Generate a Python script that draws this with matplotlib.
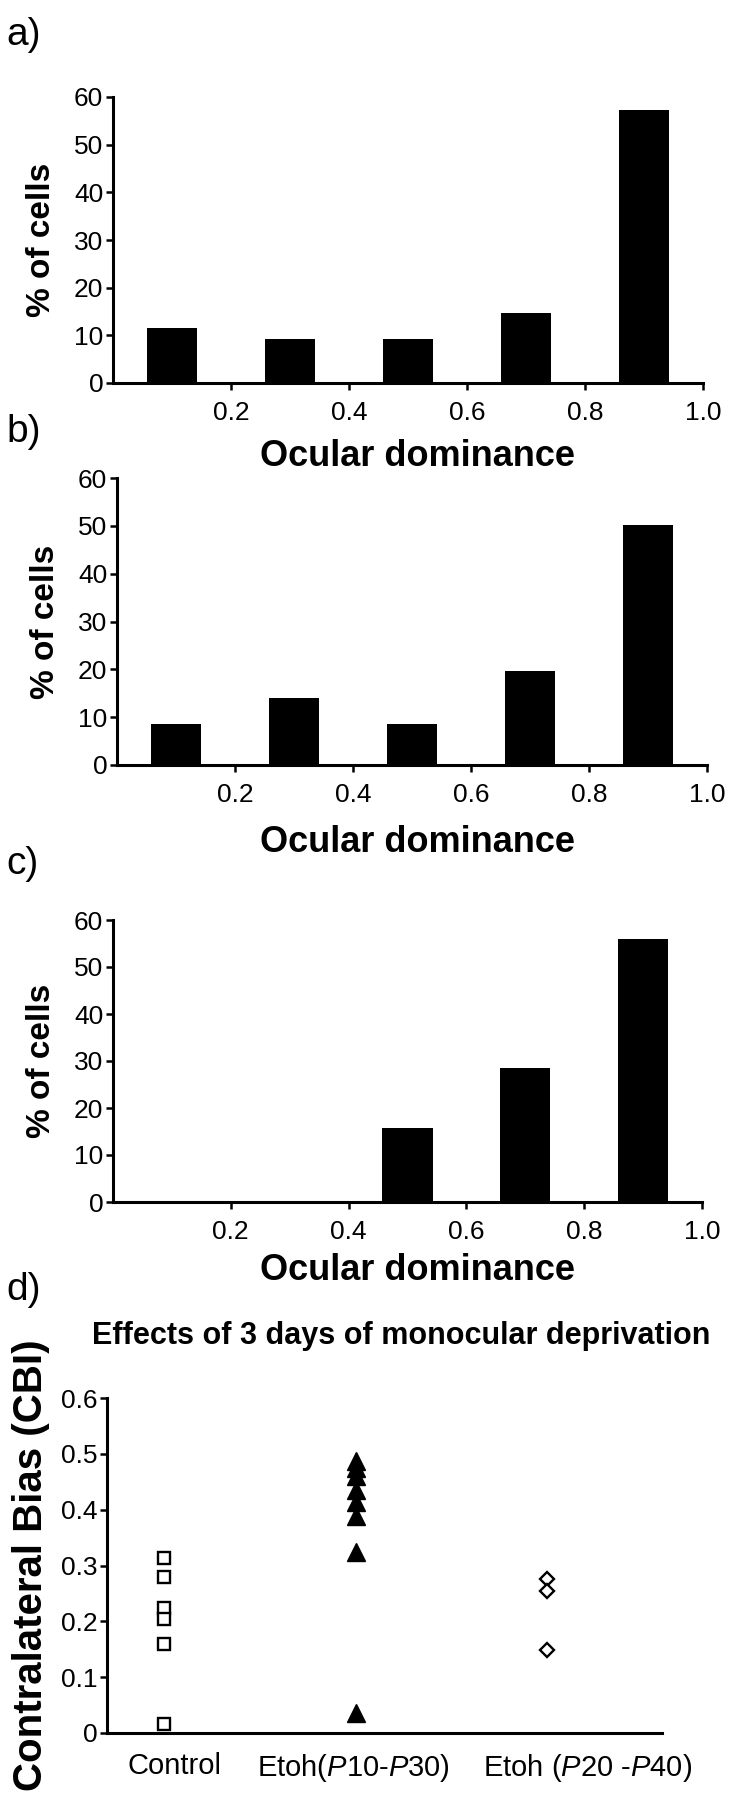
import matplotlib
matplotlib.use('Agg')
import matplotlib.pyplot as plt
import matplotlib.transforms as mtransforms

###########################################################################
# Data
###########################################################################
od_bins = [0.1, 0.3, 0.5, 0.7, 0.9]
od_ticks = [0.2, 0.4, 0.6, 0.8, 1.0]
od_ticklabels = ['0.2', '0.4', '0.6', '0.8', '1.0']
pct_a = [11.6, 9.2, 9.2, 14.7, 57.3]
pct_b = [8.6, 14.0, 8.6, 19.6, 50.2]
pct_c = [0, 0, 15.7, 28.6, 56.0]
pct_ticks = [0, 10, 20, 30, 40, 50, 60]

groups = ['Control', 'Etoh$\\mathit{(P10}$-$\\mathit{P30)}$', 'Etoh $\\mathit{(P20}$ -$\\mathit{P40)}$']
cbi_control = [0.313, 0.279, 0.223, 0.204, 0.160, 0.016]
cbi_etoh_p10 = [0.488, 0.475, 0.460, 0.436, 0.414, 0.388, 0.324, 0.036]
cbi_etoh_p20 = [0.276, 0.255, 0.149]
cbi_ticks = [0, 0.1, 0.2, 0.3, 0.4, 0.5, 0.6]
cbi_ticklabels = ['0', '0.1', '0.2', '0.3', '0.4', '0.5', '0.6']

###########################################################################
# Style
###########################################################################
plt.rcParams['font.family'] = ['Liberation Sans', 'DejaVu Sans']
plt.rcParams['mathtext.fontset'] = 'custom'
plt.rcParams['mathtext.rm'] = 'Liberation Sans'
plt.rcParams['mathtext.it'] = 'Liberation Sans:italic'
plt.rcParams['mathtext.default'] = 'regular'

W, H = 738., 1800.
fig = plt.figure(figsize=(7.38, 18), dpi=100)


def px_rect(left, right, top, bottom):
    # pixel box (measured from top-left) -> figure fraction
    return [left / W, 1 - bottom / H, (right - left) / W, (bottom - top) / H]


def style_axes(ax):
    for s in ['top', 'right']:
        ax.spines[s].set_visible(False)
    for s in ['left', 'bottom']:
        ax.spines[s].set_linewidth(2.2)
    ax.tick_params(direction='out', length=5, width=1.8, labelsize=19, pad=2)


def od_panel(rect, values, label, label_y, xlabel_y):
    ax = fig.add_axes(rect)
    ax.bar(od_bins, values, width=0.085, color='black')
    ax.set_xlim(0, 1.0)
    ax.set_ylim(0, 60)
    ax.set_xticks(od_ticks)
    ax.set_xticklabels(od_ticklabels)
    ax.set_yticks(pct_ticks)
    style_axes(ax)
    ax.tick_params(axis='x', pad=8)
    ax.set_ylabel('% of cells', fontsize=24, fontweight='bold', labelpad=12)
    fig.text(418 / W, 1 - xlabel_y / H, 'Ocular dominance', fontsize=26,
             fontweight='bold', ha='center', va='center')
    fig.text(6 / W, 1 - label_y / H, label, fontsize=28, ha='left', va='center')
    return ax


axA = od_panel(px_rect(113, 703, 97, 383), pct_a, 'a)', 35, 456)
axB = od_panel(px_rect(117, 707, 478, 765), pct_b, 'b)', 432, 842)
axC = od_panel(px_rect(113, 702, 920, 1202), pct_c, 'c)', 864, 1270)

###########################################################################
# Panel d
###########################################################################
axD = fig.add_axes(px_rect(107, 662, 1398, 1733))
axD.plot([0] * len(cbi_control), cbi_control, linestyle='none', marker='s',
         markersize=8.5, markerfacecolor='white', markeredgecolor='black', markeredgewidth=1.7)
axD.plot([1] * len(cbi_etoh_p10), cbi_etoh_p10, linestyle='none', marker='^',
         markersize=12.5, color='black')
axD.plot([2] * len(cbi_etoh_p20), cbi_etoh_p20, linestyle='none', marker='D',
         markersize=7.5, markerfacecolor='white', markeredgecolor='black', markeredgewidth=1.7)
axD.set_xlim(-0.3, 2.6)
axD.set_ylim(0, 0.6)
axD.set_yticks(cbi_ticks)
axD.set_yticklabels(cbi_ticklabels)
axD.set_xticks([0, 1, 2])
axD.set_xticklabels(groups)
style_axes(axD)
axD.tick_params(axis='x', length=0, pad=14, labelsize=21)
# nudge the category labels like in the original
for lab, dx in zip(axD.get_xticklabels(), [10, -2, 40]):
    lab.set_transform(lab.get_transform() + mtransforms.ScaledTranslation(dx / 100., 0, fig.dpi_scale_trans))
axD.set_ylabel('Contralateral Bias (CBI)', fontsize=29, fontweight='bold', labelpad=8)
fig.text(92 / W, 1 - 1336 / H, 'Effects of 3 days of monocular deprivation',
         fontsize=22, fontweight='bold', ha='left', va='center')
fig.text(6 / W, 1 - 1290 / H, 'd)', fontsize=28, ha='left', va='center')

fig.savefig('out.png', dpi=100)
